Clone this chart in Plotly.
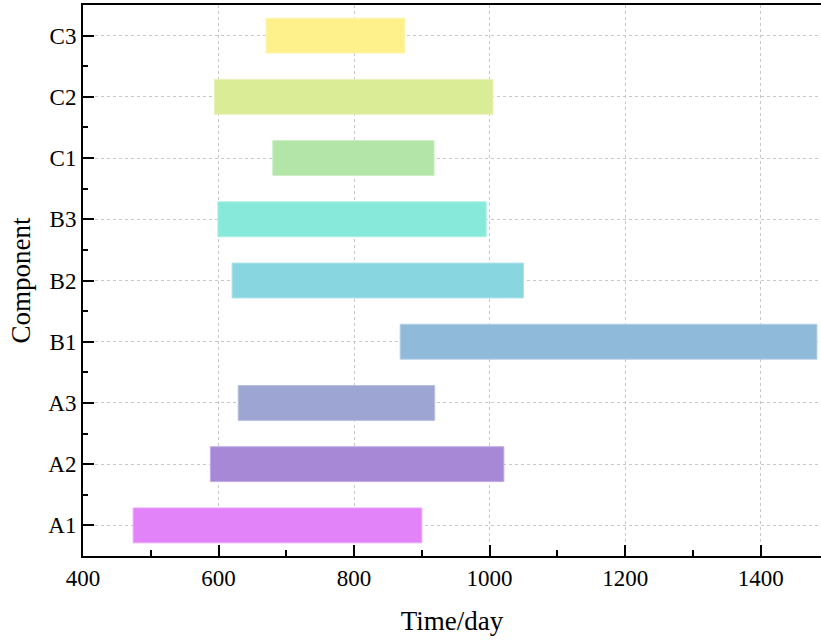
import plotly.graph_objects as go

# Component service windows (days)
components = ["A1", "A2", "A3", "B1", "B2", "B3", "C1", "C2", "C3"]
start_day = [474, 588, 629, 868, 620, 599, 680, 594, 670]
end_day = [900, 1021, 919, 1483, 1050, 995, 918, 1005, 875]
bar_colors = ["#E283FA", "#A788D6", "#9DA5D2", "#90BAD9", "#88D6E0",
              "#86E9DA", "#B3E5A9", "#DBEC96", "#FEF18C"]
edge_colors = ["#EBA9FB", "#C0A9E3", "#BAC0E0", "#B3D0E5", "#ADE3EA",
               "#ACF0E6", "#CCEEC5", "#E7F2B8", "#FEF5B2"]

x_ticks = [400, 600, 800, 1000, 1200, 1400]
y_pos = list(range(len(components)))
durations = [e - s for s, e in zip(start_day, end_day)]

font_family = "Liberation Serif, Times New Roman, serif"
grid_dash = "3px,3px"

fig = go.Figure(
    go.Bar(
        y=y_pos,
        x=durations,
        base=start_day,
        orientation="h",
        width=0.57,
        marker=dict(color=bar_colors, line=dict(color=edge_colors, width=1)),
        hoverinfo="skip",
    )
)

fig.update_layout(
    width=821,
    height=644,
    margin=dict(l=83, r=0, t=5, b=88),
    plot_bgcolor="white",
    paper_bgcolor="white",
    showlegend=False,
    font=dict(family=font_family, color="black"),
)

fig.update_xaxes(
    range=[400, 1489],
    tickvals=x_ticks,
    ticktext=[str(v) for v in x_ticks],
    ticks="inside",
    ticklen=11,
    tickwidth=2,
    tickcolor="black",
    showline=True,
    linewidth=2,
    linecolor="black",
    mirror=True,
    showgrid=True,
    gridcolor="#c8c8c8",
    gridwidth=1,
    griddash=grid_dash,
    zeroline=False,
    tickfont=dict(size=23, family=font_family),
    minor=dict(ticks="inside", ticklen=6, tickwidth=2, tickcolor="black",
               tick0=500, dtick=200, showgrid=False),
    title=dict(text="Time/day", font=dict(size=27, family=font_family), standoff=22),
)

fig.update_yaxes(
    range=[-0.5, 8.5],
    tickvals=y_pos,
    ticktext=components,
    ticks="inside",
    ticklen=11,
    tickwidth=2,
    tickcolor="black",
    showline=True,
    linewidth=2,
    linecolor="black",
    mirror=False,
    showgrid=True,
    gridcolor="#c8c8c8",
    gridwidth=1,
    griddash=grid_dash,
    zeroline=False,
    tickfont=dict(size=23, family=font_family),
    minor=dict(ticks="inside", ticklen=5, tickwidth=2, tickcolor="black",
               tick0=0.5, dtick=1, showgrid=False),
    title=dict(text="Component", font=dict(size=27, family=font_family), standoff=10),
)

fig.write_html("out.html")
